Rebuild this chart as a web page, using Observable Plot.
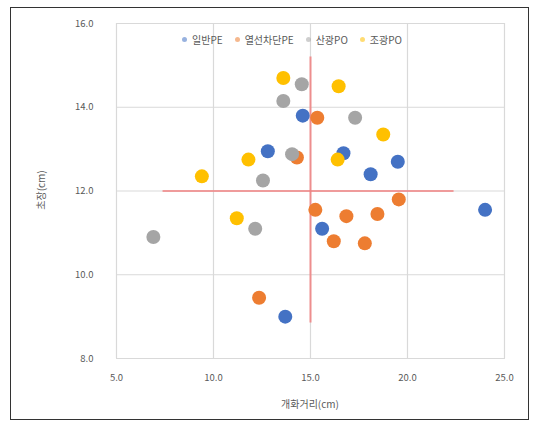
<!DOCTYPE html>
<html>
<head>
<meta charset="utf-8">
<script src="https://cdn.jsdelivr.net/npm/d3@7"></script>
<script src="https://cdn.jsdelivr.net/npm/@observablehq/plot@0.6"></script>
<style>
  html, body { margin: 0; padding: 0; background: #fff; }
  #wrap { position: relative; width: 537px; height: 427px; overflow: hidden; font-family: "Noto Sans CJK KR", "Noto Sans", sans-serif; }
  #wrap svg { position: absolute; left: 0; top: 0; }
  .frame { position: absolute; left: 10px; top: 7px; width: 517px; height: 411px; border: 1px solid #333; }
  .legend { position: absolute; top: 32px; left: 182px; display: flex; gap: 12px; font-size: 10px; color: #595959; align-items: center; white-space: nowrap; }
  .legend span.item { display: flex; align-items: center; gap: 5px; }
  .legend i { display: inline-block; width: 5px; height: 5px; border-radius: 50%; opacity: 0.55; }
  .xtitle { position: absolute; top: 396px; left: 0; width: 620px; text-align: center; font-size: 10px; color: #595959; }
  .ytitle { position: absolute; left: 40px; top: 190px; transform: translate(-50%, -50%) rotate(-90deg); font-size: 10px; color: #595959; white-space: nowrap; }
</style>
</head>
<body>
<div id="wrap">
  <div class="frame"></div>
</div>
<script>
// ---- data ----
const seriesNames = ["일반PE", "열선차단PE", "산광PO", "조광PO"];
const seriesColors = ["#4472C4", "#ED7D31", "#A5A5A5", "#FFC000"];

const pe1X = [13.7, 15.6, 24.0, 12.8, 14.6, 16.7, 18.1, 19.5];
const pe1Y = [9.0, 11.1, 11.55, 12.95, 13.8, 12.9, 12.4, 12.7];

const pe2X = [12.35, 15.25, 16.85, 18.45, 19.55, 16.2, 17.8, 15.35, 14.3];
const pe2Y = [9.45, 11.55, 11.4, 11.45, 11.8, 10.8, 10.75, 13.75, 12.8];

const po1X = [6.9, 12.15, 12.55, 13.6, 14.55, 17.3, 14.05];
const po1Y = [10.9, 11.1, 12.25, 14.15, 14.55, 13.75, 12.88];

const po2X = [9.4, 11.2, 11.8, 13.6, 16.45, 16.4, 18.75];
const po2Y = [12.35, 11.35, 12.75, 14.7, 14.5, 12.75, 13.35];

const xTicks = [5, 10, 15, 20, 25];
const yTicks = [8, 10, 12, 14, 16];

const xTitle = "개화거리(cm)";
const yTitle = "초장(cm)";

// reference lines (red cross)
const vLineX = [15];
const vLineY1 = [8.85];
const vLineY2 = [15.2];
const hLineY = [12];
const hLineX1 = [7.4];
const hLineX2 = [22.4];

// ---- build table ----
const allX = [pe1X, pe2X, po1X, po2X];
const allY = [pe1Y, pe2Y, po1Y, po2Y];
const points = [];
seriesNames.forEach((s, i) => {
  allX[i].forEach((x, j) => points.push({series: s, x, y: allY[i][j]}));
});

const chart = Plot.plot({
  width: 537,
  height: 427,
  marginLeft: 116,
  marginRight: 33,
  marginTop: 23,
  marginBottom: 69,
  style: {fontFamily: '"Noto Sans CJK KR", "Noto Sans", sans-serif', fontSize: "9.5px", color: "#595959", background: "transparent"},
  x: {domain: [5, 25], ticks: xTicks},
  y: {domain: [8, 16], ticks: yTicks},
  color: {domain: seriesNames, range: seriesColors},
  marks: [
    Plot.gridX(xTicks, {stroke: "#d9d9d9", strokeOpacity: 1, strokeWidth: 1.2}),
    Plot.gridY(yTicks, {stroke: "#d9d9d9", strokeOpacity: 1, strokeWidth: 1.2}),
    Plot.frame({stroke: "#d9d9d9"}),
    Plot.ruleX(vLineX.map((x, i) => ({x, y1: vLineY1[i], y2: vLineY2[i]})), {x: "x", y1: "y1", y2: "y2", stroke: "#F08080", strokeWidth: 2, strokeOpacity: 0.85}),
    Plot.ruleY(hLineY.map((y, i) => ({y, x1: hLineX1[i], x2: hLineX2[i]})), {y: "y", x1: "x1", x2: "x2", stroke: "#F08080", strokeWidth: 2, strokeOpacity: 0.75}),
    Plot.dot(points, {x: "x", y: "y", fill: "series", r: 7, stroke: "none"}),
    Plot.axisX(xTicks, {tickSize: 0, tickPadding: 16, tickFormat: d => d.toFixed(1), label: null, fill: "#595959"}),
    Plot.axisY(yTicks, {tickSize: 0, tickPadding: 23, tickFormat: d => d.toFixed(1), label: null, fill: "#595959"})
  ]
});

const wrap = document.getElementById("wrap");
wrap.appendChild(chart);

// legend
const leg = document.createElement("div");
leg.className = "legend";
seriesNames.forEach((s, i) => {
  const it = document.createElement("span");
  it.className = "item";
  const m = document.createElement("i");
  m.style.background = seriesColors[i];
  const t = document.createElement("span");
  t.textContent = s;
  it.appendChild(m); it.appendChild(t);
  leg.appendChild(it);
});
wrap.appendChild(leg);

const xt = document.createElement("div");
xt.className = "xtitle"; xt.textContent = xTitle;
wrap.appendChild(xt);
const yt = document.createElement("div");
yt.className = "ytitle"; yt.textContent = yTitle;
wrap.appendChild(yt);
</script>
</body>
</html>
